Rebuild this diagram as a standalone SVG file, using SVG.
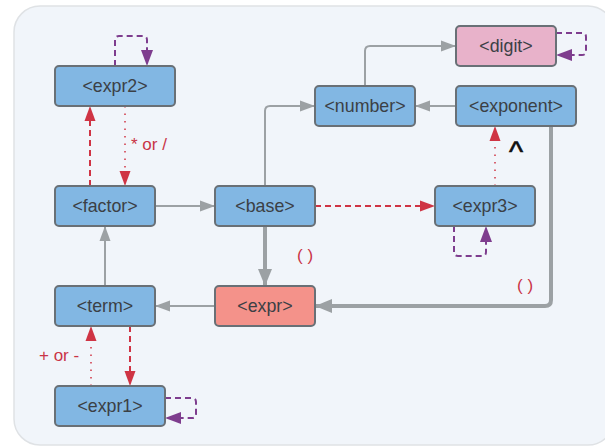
<svg xmlns="http://www.w3.org/2000/svg" width="605" height="447" viewBox="0 0 605 447">
  <defs>
    <style>
      .panel { fill: #f1f5fa; stroke: #dfe2e5; stroke-width: 1.5; }
      .node rect { stroke: #697076; stroke-width: 2; }
      .blue rect { fill: #82b7e3; }
      .pink rect { fill: #e8b2ca; }
      .salmon rect { fill: #f4928a; }
      .node text { font-family: "Liberation Sans", Arial, sans-serif; font-size: 17.8px; fill: #3b4045; text-anchor: middle; dominant-baseline: central; }
      .grey { fill: none; stroke: #9ca1a4; stroke-width: 2; }
      .thick { fill: none; stroke: #9ca1a4; stroke-width: 4; }
      .red-dash { fill: none; stroke: #cf3444; stroke-width: 2; stroke-dasharray: 6 4; }
      .red-dot { fill: none; stroke: #cf3444; stroke-width: 1.5; stroke-dasharray: 1.5 6; }
      .purple { fill: none; stroke: #7e3d8e; stroke-width: 2; stroke-dasharray: 6 4; }
      .lbl { font-family: "Liberation Sans", Arial, sans-serif; font-size: 17px; fill: #c93446; }
      .caret { font-family: "Liberation Sans", Arial, sans-serif; font-size: 30px; fill: #111; stroke: #111; stroke-width: 0.6; }
    </style>
    <marker id="ah-grey" markerUnits="userSpaceOnUse" markerWidth="16" markerHeight="12" refX="15" refY="6" orient="auto">
      <path d="M0,0.5 L15,6 L0,11.5 Z" fill="#9ca1a4"/>
    </marker>
    <marker id="ah-grey-big" markerUnits="userSpaceOnUse" markerWidth="18" markerHeight="15" refX="17" refY="7.5" orient="auto">
      <path d="M0,0.5 L17,7.5 L0,14.5 Z" fill="#9ca1a4"/>
    </marker>
    <marker id="ah-red" markerUnits="userSpaceOnUse" markerWidth="16" markerHeight="12" refX="15" refY="6" orient="auto">
      <path d="M0,0.5 L15,6 L0,11.5 Z" fill="#cf3444"/>
    </marker>
    <marker id="ah-purple" markerUnits="userSpaceOnUse" markerWidth="17" markerHeight="13" refX="16" refY="6.5" orient="auto">
      <path d="M0,0.5 L16,6.5 L0,12.5 Z" fill="#7e3d8e"/>
    </marker>
  </defs>

  <!-- background panel -->
  <rect class="panel" x="14" y="6" width="600" height="439" rx="26"/>

  <!-- connectors -->
  <g id="connectors">
    <!-- solid grey -->
    <path class="grey" d="M155,206 H215" marker-end="url(#ah-grey)"/>
    <path class="grey" d="M105,286 V226" marker-end="url(#ah-grey)"/>
    <path class="grey" d="M215,306 H155" marker-end="url(#ah-grey)"/>
    <path class="grey" d="M265,186 V111 Q265,106 270,106 H315" marker-end="url(#ah-grey)"/>
    <path class="grey" d="M365,86 V51 Q365,46 370,46 H456" marker-end="url(#ah-grey)"/>
    <path class="grey" d="M456,106 H415" marker-end="url(#ah-grey)"/>
    <path class="thick" d="M265,226 V286" marker-end="url(#ah-grey-big)"/>
    <path class="thick" d="M551,126 V300 Q551,306 545,306 H315" marker-end="url(#ah-grey-big)"/>

    <!-- red dashed / dotted -->
    <path class="red-dash" d="M90,186 V106" marker-end="url(#ah-red)"/>
    <path class="red-dot" d="M125,106 V186" marker-end="url(#ah-red)"/>
    <path class="red-dash" d="M315,206 H435" marker-end="url(#ah-red)"/>
    <path class="red-dot" d="M495,186 V126" marker-end="url(#ah-red)"/>
    <path class="red-dash" d="M130,326 V386" marker-end="url(#ah-red)"/>
    <path class="red-dot" d="M91,386 V326" marker-end="url(#ah-red)"/>

    <!-- purple self loops -->
    <path class="purple" d="M115,66 V40 Q115,36 119,36 H143 Q147,36 147,40 V66" marker-end="url(#ah-purple)"/>
    <path class="purple" d="M556,33 H582 Q586,33 586,37 V51 Q586,55 582,55 H556" marker-end="url(#ah-purple)"/>
    <path class="purple" d="M454,226 V252 Q454,256 458,256 H482 Q486,256 486,252 V226" marker-end="url(#ah-purple)"/>
    <path class="purple" d="M165,398 H192 Q196,398 196,402 V414 Q196,418 192,418 H165" marker-end="url(#ah-purple)"/>

    <!-- labels -->
    <text class="lbl" x="131" y="150">* or /</text>
    <text class="lbl" x="39" y="361">+ or -</text>
    <text class="lbl" x="297" y="261">( )</text>
    <text class="lbl" x="517" y="291">( )</text>
    <text class="caret" x="509" y="162">^</text>
  </g>

  <!-- nodes -->
  <g id="expr2" class="node blue"><rect x="55" y="66" width="120" height="40" rx="4"/><text x="115" y="86">&lt;expr2&gt;</text></g>
  <g id="factor" class="node blue"><rect x="55" y="186" width="100" height="40" rx="4"/><text x="105" y="206">&lt;factor&gt;</text></g>
  <g id="base" class="node blue"><rect x="215" y="186" width="100" height="40" rx="4"/><text x="265" y="206">&lt;base&gt;</text></g>
  <g id="number" class="node blue"><rect x="315" y="86" width="100" height="40" rx="4"/><text x="365" y="106">&lt;number&gt;</text></g>
  <g id="digit" class="node pink"><rect x="456" y="26" width="100" height="40" rx="4"/><text x="506" y="46">&lt;digit&gt;</text></g>
  <g id="exponent" class="node blue"><rect x="456" y="86" width="120" height="40" rx="4"/><text x="516" y="106">&lt;exponent&gt;</text></g>
  <g id="expr3" class="node blue"><rect x="435" y="186" width="100" height="40" rx="4"/><text x="485" y="206">&lt;expr3&gt;</text></g>
  <g id="term" class="node blue"><rect x="55" y="286" width="100" height="40" rx="4"/><text x="105" y="306">&lt;term&gt;</text></g>
  <g id="expr" class="node salmon"><rect x="215" y="286" width="100" height="40" rx="4"/><text x="265" y="306">&lt;expr&gt;</text></g>
  <g id="expr1" class="node blue"><rect x="55" y="386" width="110" height="40" rx="4"/><text x="110" y="406">&lt;expr1&gt;</text></g>
</svg>
